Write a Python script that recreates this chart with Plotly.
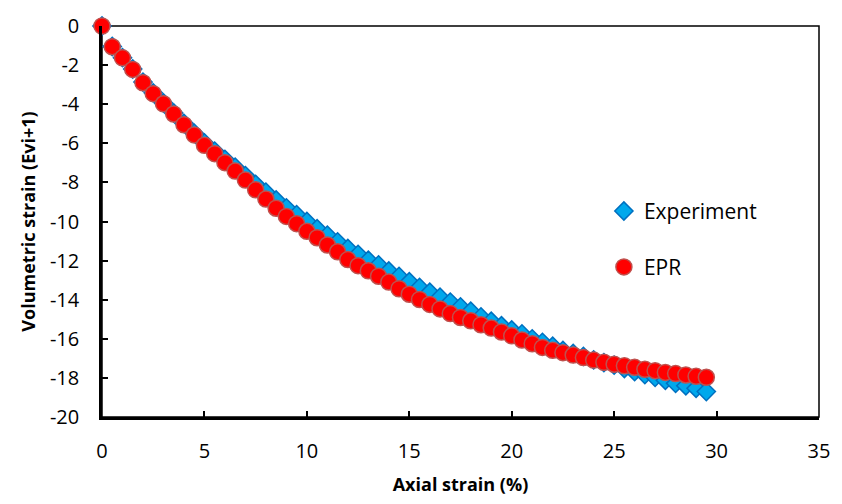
import plotly.graph_objects as go

axial_strain = [i * 0.5 for i in range(60)]

experiment = [0, -1.05, -1.62, -2.2, -2.87, -3.42, -3.94, -4.45, -4.98, -5.48,
              -5.98, -6.4, -6.82, -7.22, -7.65, -8.1, -8.5, -8.9, -9.3, -9.65,
              -10.0, -10.37, -10.7, -11.04, -11.38, -11.68, -11.98, -12.22, -12.53, -12.81,
              -13.08, -13.37, -13.62, -13.87, -14.12, -14.37, -14.59, -14.88, -15.1, -15.33,
              -15.55, -15.75, -16.0, -16.18, -16.38, -16.6, -16.75, -16.9, -17.08, -17.22,
              -17.35, -17.52, -17.68, -17.83, -17.97, -18.12, -18.28, -18.4, -18.53, -18.7]

epr = [0, -1.06, -1.63, -2.22, -2.9, -3.46, -3.98, -4.5, -5.05, -5.57,
       -6.1, -6.53, -6.99, -7.42, -7.88, -8.38, -8.85, -9.32, -9.74, -10.11,
       -10.5, -10.83, -11.2, -11.55, -11.95, -12.26, -12.52, -12.8, -13.1, -13.44,
       -13.72, -13.99, -14.24, -14.47, -14.71, -14.91, -15.08, -15.28, -15.45, -15.65,
       -15.85, -16.06, -16.25, -16.44, -16.59, -16.71, -16.83, -16.96, -17.09, -17.2,
       -17.3, -17.38, -17.46, -17.56, -17.63, -17.72, -17.78, -17.85, -17.92, -17.97]

x_tick_values = [0, 5, 10, 15, 20, 25, 30, 35]
x_tick_labels = ["0", "5", "10", "15", "20", "25", "30", "35"]
y_tick_values = [0, -2, -4, -6, -8, -10, -12, -14, -16, -18, -20]
y_tick_labels = ["0", "-2", "-4", "-6", "-8", "-10", "-12", "-14", "-16", "-18", "-20"]

FONT = "Open Sans"

fig = go.Figure()
fig.add_trace(go.Scatter(
    x=axial_strain, y=experiment, mode="markers", name="Experiment",
    marker=dict(symbol="diamond", size=14, color="#00A8EC",
                line=dict(color="#0070C0", width=1.5)),
    cliponaxis=False, legend="legend", showlegend=True))
fig.add_trace(go.Scatter(
    x=axial_strain, y=epr, mode="markers", name="EPR",
    marker=dict(symbol="circle", size=16, color="#FF0000",
                line=dict(color="#C0504D", width=1.5)),
    cliponaxis=False, legend="legend2", showlegend=True))

fig.update_layout(
    width=842, height=504,
    margin=dict(l=102, r=16, t=20, b=87),
    paper_bgcolor="white", plot_bgcolor="white",
    showlegend=True,
    font=dict(family=FONT, size=19, color="black"),
    legend=dict(x=0.700, y=0.526, xanchor="left", yanchor="middle",
                bgcolor="rgba(0,0,0,0)", font=dict(size=21, family=FONT)),
    legend2=dict(x=0.700, y=0.383, xanchor="left", yanchor="middle",
                 bgcolor="rgba(0,0,0,0)", font=dict(size=21, family=FONT)),
    shapes=[dict(type="rect", xref="paper", yref="paper", x0=0, y0=0, x1=1, y1=1,
                 line=dict(color="black", width=1.5), layer="below")],
)

fig.update_xaxes(
    range=[0, 35], tickmode="array", tickvals=x_tick_values, ticktext=x_tick_labels,
    showgrid=False, zeroline=False,
    showline=True, linecolor="black", linewidth=2.5,
    ticks="inside", ticklen=6, tickwidth=2, tickcolor="black",
    ticklabelstandoff=14,
    tickfont=dict(size=20, family=FONT),
    title=dict(text="<b>Axial strain (%)</b>", font=dict(size=18, family=FONT), standoff=16),
)
fig.update_yaxes(
    range=[-20, 0], tickmode="array", tickvals=y_tick_values, ticktext=y_tick_labels,
    showgrid=False, zeroline=False,
    showline=True, linecolor="black", linewidth=2.5,
    ticks="inside", ticklen=6, tickwidth=2, tickcolor="black",
    ticklabelstandoff=16,
    tickfont=dict(size=20, family=FONT),
    title=dict(text="<b>Volumetric strain (Evi+1)</b>", font=dict(size=18, family=FONT), standoff=10),
)

fig.write_html("out.html")
